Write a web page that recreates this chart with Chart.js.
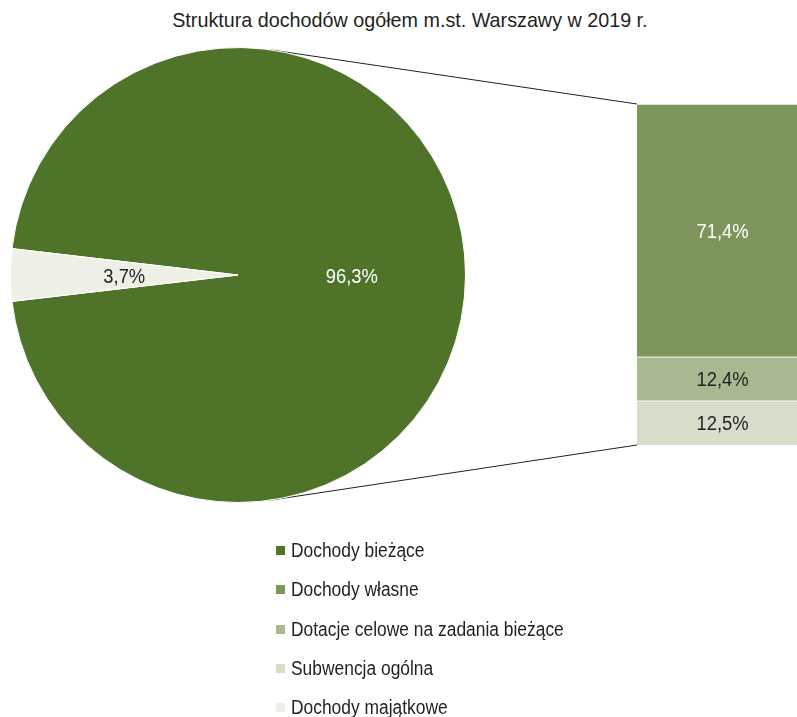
<!DOCTYPE html>
<html lang="pl">
<head>
<meta charset="utf-8">
<title>Struktura dochodów ogółem m.st. Warszawy w 2019 r.</title>
<script src="https://cdn.jsdelivr.net/npm/chart.js@4/dist/chart.umd.min.js"></script>
<style>
  html, body { margin: 0; padding: 0; background: #fff; }
  #wrap { position: relative; width: 797px; height: 717px; overflow: hidden;
          font-family: "Liberation Sans", Arial, sans-serif; color: #231f20; }
  /* narrow look of the original: Liberation Sans squeezed horizontally */
  .narrow { display: inline-block; white-space: nowrap; }
  #title { position: absolute; left: 0; width: 819px; top: 8px; text-align: center; font-size: 21px; line-height: 24px; }
  #title .narrow { transform: scaleX(0.94); transform-origin: center; }
  #pieBox { position: absolute; left: 0; top: 37px; }
  #barBox { position: absolute; left: 637px; top: 104px; }
  #links { position: absolute; left: 0; top: 0; }
  #legend { position: absolute; left: 276px; top: 531px; font-size: 20px; }
  .legend-item { display: flex; align-items: center; height: 39.25px; }
  .legend-item .narrow { transform: scaleX(0.87); transform-origin: left center; }
  .legend-dot { width: 9px; height: 9px; margin-right: 6px; flex: none; }
</style>
</head>
<body>
<div id="wrap">
  <div id="title"><span class="narrow">Struktura dochodów ogółem m.st. Warszawy w 2019 r.</span></div>
  <canvas id="links" width="797" height="717"></canvas>
  <div id="pieBox"><canvas id="pie" width="476" height="476"></canvas></div>
  <div id="barBox"><canvas id="bar" width="171" height="341"></canvas></div>
  <div id="legend"></div>
</div>
<script>
// pie: total income split
const pieLabels = ['Dochody bieżące', 'Dochody majątkowe'];
const pieValues = [96.3, 3.7];
// bar: breakdown of current income (top to bottom)
const barLabels = ['Dochody własne', 'Dotacje celowe na zadania bieżące', 'Subwencja ogólna'];
const barValues = [71.4, 12.4, 12.5];

const COLOURS = {
  'Dochody bieżące':                  '#4e7329',
  'Dochody własne':                   '#7b955a',
  'Dotacje celowe na zadania bieżące':'#a8b890',
  'Subwencja ogólna':                 '#d6ddc8',
  'Dochody majątkowe':                '#eeefe7',
};
const legendOrder = ['Dochody bieżące', 'Dochody własne', 'Dotacje celowe na zadania bieżące', 'Subwencja ogólna', 'Dochody majątkowe'];

const fmt = v => v.toFixed(1).replace('.', ',') + '%';
const FONT = { family: '"Liberation Sans", Arial, sans-serif', size: 20, squeeze: 0.92 };

// narrow text on canvas, centred at (x, y)
function narrowText(ctx, text, x, y, colour) {
  ctx.save();
  ctx.font = `${FONT.size}px ${FONT.family}`;
  ctx.textAlign = 'center';
  ctx.textBaseline = 'middle';
  ctx.fillStyle = colour;
  ctx.translate(x, y);
  ctx.scale(FONT.squeeze, 1);
  ctx.fillText(text, 0, 0);
  ctx.restore();
}

// labels inside pie slices, at half radius
const pieLabelPlugin = {
  id: 'pieLabels',
  afterDatasetsDraw(chart) {
    const arcs = chart.getDatasetMeta(0).data;
    arcs.forEach((arc, i) => {
      const mid = (arc.startAngle + arc.endAngle) / 2;
      const r = arc.outerRadius * 0.5;
      narrowText(chart.ctx, fmt(pieValues[i]),
        arc.x + Math.cos(mid) * r, arc.y + Math.sin(mid) * r + 2,
        i === 0 ? '#ffffff' : '#231f20');
    });
  },
};

// labels centred in bar segments
const barLabelPlugin = {
  id: 'barLabels',
  afterDatasetsDraw(chart) {
    chart.data.datasets.forEach((ds, i) => {
      const el = chart.getDatasetMeta(i).data[0];
      narrowText(chart.ctx, fmt(ds.data[0]), el.x, (el.y + el.base) / 2 + 2,
        ds.label === 'Dochody własne' ? '#ffffff' : '#231f20');
    });
  },
};

const pieChart = new Chart(document.getElementById('pie'), {
  type: 'pie',
  data: {
    labels: pieLabels,
    datasets: [{
      data: pieValues,
      backgroundColor: pieLabels.map(l => COLOURS[l]),
      borderColor: '#ffffff',
      borderWidth: 1,
    }],
  },
  options: {
    responsive: false,
    animation: false,
    // small slice centred on the left side
    rotation: 270 + pieValues[1] * 1.8,
    layout: { padding: 10 },
    plugins: { legend: { display: false }, tooltip: { enabled: false } },
  },
  plugins: [pieLabelPlugin],
});

// stacked from the bottom, so reverse the top-to-bottom order
const barDatasets = barLabels.map((l, i) => ({
  label: l,
  data: [barValues[i]],
  backgroundColor: COLOURS[l],
  borderColor: '#ffffff',
  borderWidth: { top: 1, bottom: 0, left: 0, right: 0 },
  borderSkipped: false,
  barPercentage: 1,
  categoryPercentage: 1,
})).reverse();

const barChart = new Chart(document.getElementById('bar'), {
  type: 'bar',
  data: { labels: [''], datasets: barDatasets },
  options: {
    responsive: false,
    animation: false,
    layout: { padding: 0 },
    scales: {
      x: { stacked: true, display: false },
      y: { stacked: true, display: false, min: 0, max: barValues.reduce((a, b) => a + b, 0) },
    },
    plugins: { legend: { display: false }, tooltip: { enabled: false } },
  },
  plugins: [barLabelPlugin],
});

// connector lines: tangents from bar corners to the pie circle
function drawLinks() {
  const canvas = document.getElementById('links');
  const ctx = canvas.getContext('2d');
  const pieBox = document.getElementById('pieBox');
  const barBox = document.getElementById('barBox');
  const arc = pieChart.getDatasetMeta(0).data[0];
  const cx = pieBox.offsetLeft + arc.x;
  const cy = pieBox.offsetTop + arc.y;
  const r = arc.outerRadius;

  const topEl = barChart.getDatasetMeta(barDatasets.length - 1).data[0];
  const botEl = barChart.getDatasetMeta(0).data[0];
  const left = barBox.offsetLeft + topEl.x - topEl.width / 2;
  const corners = [
    { x: left, y: barBox.offsetTop + topEl.y, side: -1 },
    { x: left, y: barBox.offsetTop + botEl.base, side: 1 },
  ];

  ctx.strokeStyle = '#231f20';
  ctx.lineWidth = 1;
  corners.forEach(p => {
    const dx = p.x - cx, dy = p.y - cy;
    const d = Math.hypot(dx, dy);
    const a = Math.atan2(dy, dx) + p.side * Math.acos(r / d);
    ctx.beginPath();
    ctx.moveTo(cx + Math.cos(a) * r, cy + Math.sin(a) * r);
    ctx.lineTo(p.x, p.y);
    ctx.stroke();
  });
}
drawLinks();

document.getElementById('legend').innerHTML = legendOrder.map(l => `
  <div class="legend-item">
    <div class="legend-dot" style="background:${COLOURS[l]}"></div>
    <span class="narrow">${l}</span>
  </div>`).join('');
</script>
</body>
</html>
